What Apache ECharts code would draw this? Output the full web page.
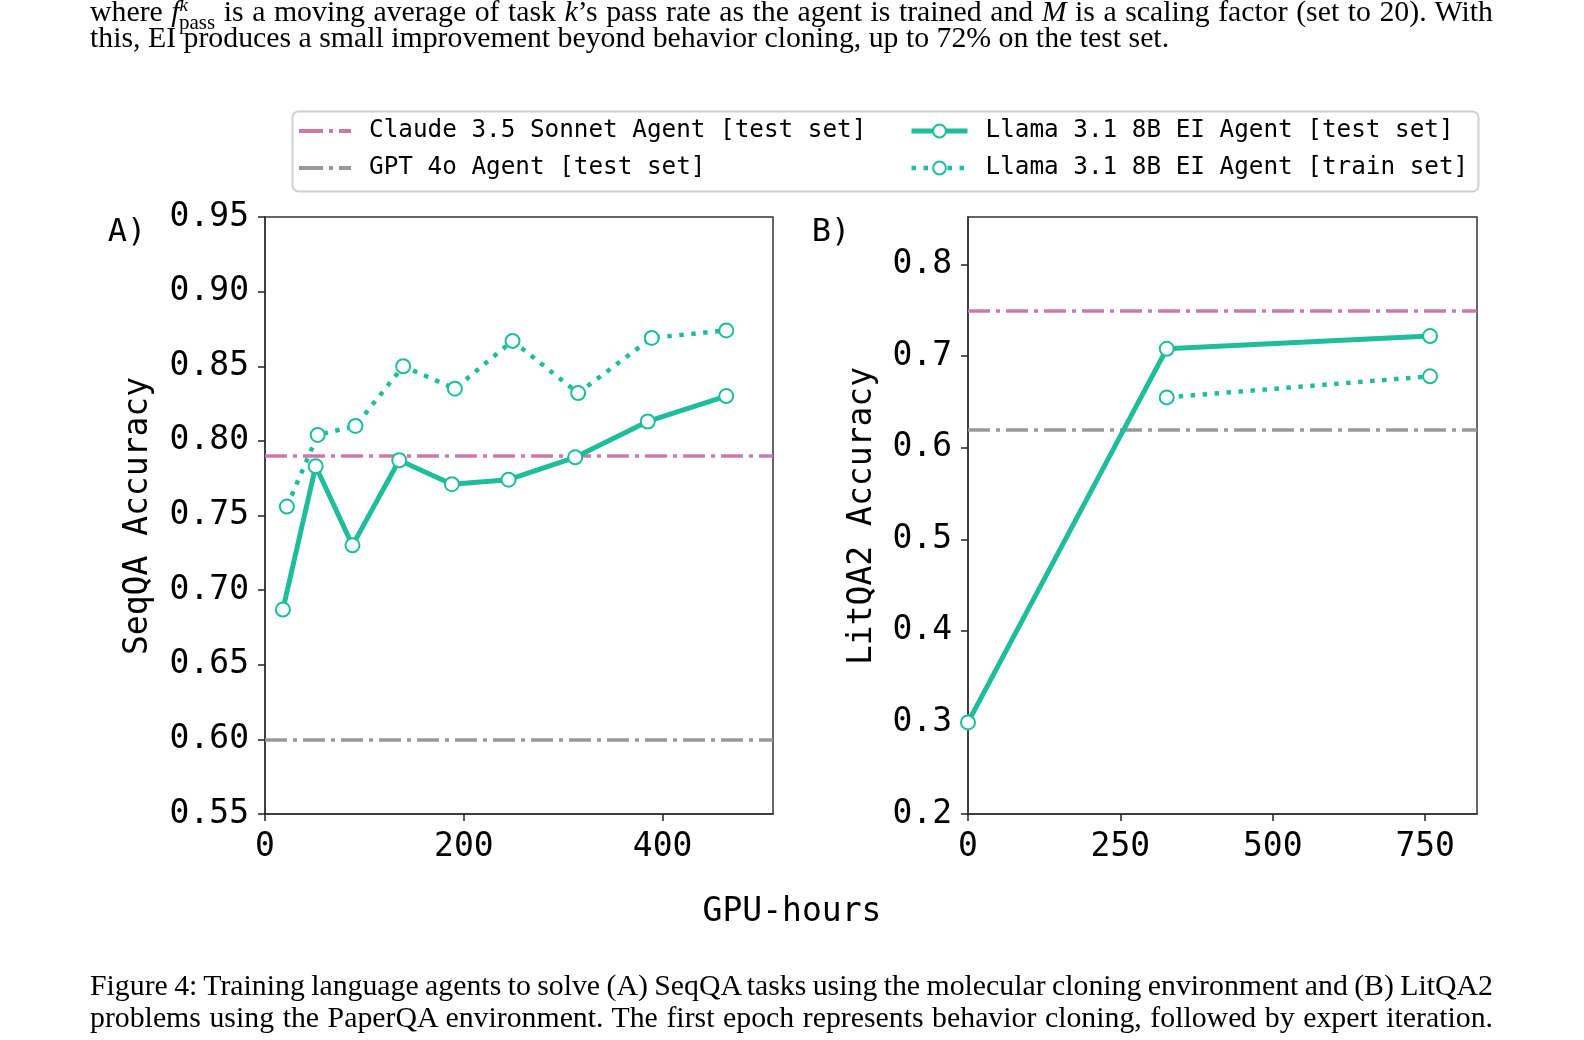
<!DOCTYPE html>
<html>
<head>
<meta charset="utf-8">
<script src="https://cdn.jsdelivr.net/npm/echarts@6/dist/echarts.min.js"></script>
<style>
  html, body { margin: 0; padding: 0; background: #fff; }
  #chart { position: absolute; left: 0; top: 0; width: 1584px; height: 1040px; }
  .ptxt { position: absolute; left: 90px; width: 1403px; font-family: "Liberation Serif", serif; font-size: 29.8px; line-height: 30px; color: #000; white-space: nowrap; }
  .just { text-align: justify; text-align-last: justify; white-space: normal; word-spacing: -4px; }
</style>
</head>
<body>
<div id="chart"></div>
<div class="ptxt just" style="top:-10px;">where <i>f</i><sup style="font-size:19px;vertical-align:10px;"><i>k</i></sup><sub style="font-size:21px;vertical-align:-8px;margin-left:-9px;">pass</sub> is a moving average of task <i>k</i>’s pass rate as the agent is trained and <i>M</i> is a scaling factor (set to 20). With</div>
<div class="ptxt" style="top:22px;">this, EI produces a small improvement beyond behavior cloning, up to 72% on the test set.</div>
<div class="ptxt just" style="top:970px;">Figure 4: Training language agents to solve (A) SeqQA tasks using the molecular cloning environment and (B) LitQA2</div>
<div class="ptxt just" style="top:1002px;">problems using the PaperQA environment. The first epoch represents behavior cloning, followed by expert iteration.</div>
<script>
// ---------- data ----------
const NAME_CLAUDE = 'Claude 3.5 Sonnet Agent [test set]';
const NAME_GPT = 'GPT 4o Agent [test set]';
const NAME_TEST = 'Llama 3.1 8B EI Agent [test set]';
const NAME_TRAIN = 'Llama 3.1 8B EI Agent [train set]';

// Panel A (SeqQA)
const seqTestHours = [18, 51, 88, 135, 188, 245, 312, 385, 464];
const seqTestAcc   = [0.687, 0.783, 0.730, 0.787, 0.771, 0.774, 0.789, 0.813, 0.830];
const seqTrainHours = [22, 53, 91, 139, 191, 249, 315, 389, 464];
const seqTrainAcc   = [0.756, 0.804, 0.810, 0.850, 0.835, 0.867, 0.832, 0.869, 0.874];
const seqClaude = 0.792;
const seqGPT = 0.598;

// Panel B (LitQA2)
const litTestHours = [0, 326, 758];
const litTestAcc   = [0.300, 0.708, 0.722];
const litTrainHours = [326, 758];
const litTrainAcc   = [0.655, 0.678];
const litClaude = 0.752;
const litGPT = 0.617;

// axis ranges / ticks
const axA = { xmin: 0, xmax: 511, xint: 200, ymin: 0.55, ymax: 0.95, yint: 0.05, ydec: 2, ymaxLabel: true };
const axB = { xmin: 0, xmax: 835, xint: 250, ymin: 0.2, ymax: 0.852, yint: 0.1, ydec: 1, ymaxLabel: false };

// ---------- styles ----------
const TEAL = '#1fbd9a';
const PINK = '#cc79a7';
const GRAY = '#999999';
const MONO = '"DejaVu Sans Mono", monospace';
const DASHDOT = [22, 6, 4, 6];
const DOTTED = [4.5, 7.5];
const DASHDOT_ICON = 'path://M0,0H24V4H0Z M30,0H34V4H30Z M40,0H52V4H40Z';

const zip = (xs, ys) => xs.map((x, i) => [x, ys[i]]);

function xAxisCfg(idx, ax) {
  return {
    type: 'value', gridIndex: idx, min: ax.xmin, max: ax.xmax, interval: ax.xint,
    axisLine: { show: true, onZero: false, lineStyle: { color: '#333', width: 1.5 } },
    axisTick: { show: true, length: 7, lineStyle: { color: '#222', width: 1.5 } },
    axisLabel: { fontFamily: MONO, fontSize: 33, color: '#000', margin: 17, showMaxLabel: false },
    splitLine: { show: false }
  };
}
function yAxisCfg(idx, ax) {
  return {
    type: 'value', gridIndex: idx, min: ax.ymin, max: ax.ymax, interval: ax.yint,
    axisLine: { show: true, onZero: false, lineStyle: { color: '#333', width: 1.5 } },
    axisTick: { show: true, length: 7, lineStyle: { color: '#222', width: 1.5 } },
    axisLabel: { fontFamily: MONO, fontSize: 33, color: '#000', margin: 16, showMaxLabel: ax.ymaxLabel, showMinLabel: true,
      formatter: v => v.toFixed(ax.ydec) },
    splitLine: { show: false }
  };
}
function refLine(name, idx, val, color) {
  return {
    name, type: 'line', xAxisIndex: idx, yAxisIndex: idx, data: [],
    symbol: 'none', color,
    itemStyle: { color },
    lineStyle: { color, width: 3.5, type: DASHDOT },
    markLine: {
      silent: true, symbol: 'none', label: { show: false },
      lineStyle: { color, width: 3.5, type: DASHDOT, cap: 'butt' },
      data: [{ yAxis: val }]
    }
  };
}
function testLine(idx, xs, ys) {
  return {
    name: NAME_TEST, type: 'line', xAxisIndex: idx, yAxisIndex: idx, data: zip(xs, ys),
    symbol: 'emptyCircle', symbolSize: 14, color: TEAL,
    itemStyle: { color: TEAL, borderColor: TEAL, borderWidth: 2.5 },
    lineStyle: { color: TEAL, width: 5 }, z: 5
  };
}
function trainLine(idx, xs, ys) {
  return {
    name: NAME_TRAIN, type: 'line', xAxisIndex: idx, yAxisIndex: idx, data: zip(xs, ys),
    symbol: 'emptyCircle', symbolSize: 14, color: TEAL,
    itemStyle: { color: TEAL, borderColor: TEAL, borderWidth: 2.5 },
    lineStyle: { color: TEAL, width: 4.5, type: DOTTED, cap: 'butt' }, z: 4
  };
}

const chart = echarts.init(document.getElementById('chart'), null, { renderer: 'canvas' });
const legendText = { fontFamily: MONO, fontSize: 24.3, color: '#000', lineHeight: 24, padding: [0, 0, 0, 13] };

chart.setOption({
  animation: false,
  backgroundColor: 'transparent',
  grid: [
    { left: 265, top: 217, width: 508, height: 597, show: true, borderColor: '#333', borderWidth: 1.5, backgroundColor: 'transparent' },
    { left: 968, top: 217, width: 509, height: 597, show: true, borderColor: '#333', borderWidth: 1.5, backgroundColor: 'transparent' }
  ],
  xAxis: [xAxisCfg(0, axA), xAxisCfg(1, axB)],
  yAxis: [yAxisCfg(0, axA), yAxisCfg(1, axB)],
  legend: [
    { orient: 'vertical', left: 299, top: 119, padding: 0, itemGap: 13, itemWidth: 52, itemHeight: 4,
      icon: DASHDOT_ICON,
      data: [NAME_CLAUDE, NAME_GPT], textStyle: legendText },
    { orient: 'vertical', left: 909, top: 119, padding: 0, itemGap: 13, itemWidth: 56, itemHeight: 16,
      data: [
        { name: NAME_TEST, lineStyle: { width: 5, color: TEAL, type: 'solid' } },
        { name: NAME_TRAIN, lineStyle: { width: 4.5, color: TEAL, type: DOTTED, cap: 'butt' } }
      ], textStyle: legendText }
  ],
  graphic: [
    { type: 'rect', left: 290, top: 109, shape: { width: 1186, height: 80, r: 6 },
      style: { fill: 'none', stroke: '#d0d0d0', lineWidth: 2 }, z: -1 },
    { type: 'text', x: 127, y: 233, style: { text: 'A)', font: '32px ' + MONO, fill: '#000', align: 'center', verticalAlign: 'middle' } },
    { type: 'text', x: 831, y: 233, style: { text: 'B)', font: '32px ' + MONO, fill: '#000', align: 'center', verticalAlign: 'middle' } },
    { type: 'text', x: 138, y: 516, rotation: Math.PI / 2, style: { text: 'SeqQA Accuracy', font: '33px ' + MONO, fill: '#000', align: 'center', verticalAlign: 'middle' } },
    { type: 'text', x: 862, y: 516, rotation: Math.PI / 2, style: { text: 'LitQA2 Accuracy', font: '33px ' + MONO, fill: '#000', align: 'center', verticalAlign: 'middle' } },
    { type: 'text', x: 792, y: 912, style: { text: 'GPU-hours', font: '33px ' + MONO, fill: '#000', align: 'center', verticalAlign: 'middle' } }
  ],
  series: [
    refLine(NAME_CLAUDE, 0, seqClaude, PINK),
    refLine(NAME_GPT, 0, seqGPT, GRAY),
    trainLine(0, seqTrainHours, seqTrainAcc),
    testLine(0, seqTestHours, seqTestAcc),
    refLine(NAME_CLAUDE, 1, litClaude, PINK),
    refLine(NAME_GPT, 1, litGPT, GRAY),
    trainLine(1, litTrainHours, litTrainAcc),
    testLine(1, litTestHours, litTestAcc)
  ]
});
</script>
</body>
</html>
